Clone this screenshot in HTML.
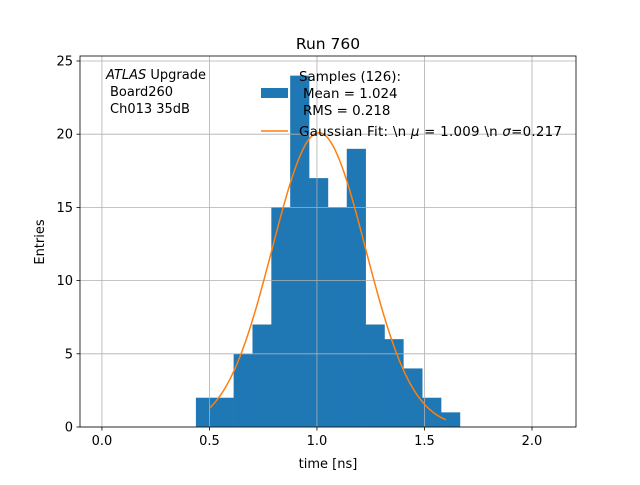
<!DOCTYPE html>
<html><head><meta charset="utf-8"><style>
body{margin:0;background:#fff}
svg text{font-family:"DejaVu Sans","Liberation Sans",sans-serif;fill:#000}
</style></head><body>
<svg id="c" width="640" height="480" xmlns="http://www.w3.org/2000/svg"></svg>
<script>
const binStart = 0.437;
const binWidth = 0.0877;
const counts = [2,2,5,7,15,24,17,15,19,7,6,4,2,1];
const fitMu = 1.009, fitSigma = 0.217, fitAmp = 20.1;
const fitRange = [0.5, 1.6];
const xTicks = [0.0,0.5,1.0,1.5,2.0];
const xTickLabels = ["0.0","0.5","1.0","1.5","2.0"];
const yTicks = [0,5,10,15,20,25];

const L=80,R=576,T=56,B=427;
const xMin=-0.102,xMax=2.2047,yMin=0,yMax=25.34;
const X=v=>L+(v-xMin)/(xMax-xMin)*(R-L);
const Y=v=>B-(v-yMin)/(yMax-yMin)*(B-T);
const svg=document.getElementById('c');
const NS='http://www.w3.org/2000/svg';
function mk(tag,attrs,parent){const e=document.createElementNS(NS,tag);for(const k in attrs)e.setAttribute(k,attrs[k]);(parent||svg).appendChild(e);return e;}

const bars=mk('g',{});


counts.forEach((c,i)=>{
  const x0=X(binStart+i*binWidth),x1=X(binStart+(i+1)*binWidth);
  const r=mk('rect',{x:x0,y:Y(c),width:x1-x0+0.3,height:Y(0)-Y(c),fill:'#1f77b4'},bars);
  
  
});
const grid=mk('g',{stroke:'#b0b0b0','stroke-width':0.8});


xTicks.forEach(t=>mk('line',{x1:X(t),x2:X(t),y1:T,y2:B},grid));
yTicks.forEach(t=>mk('line',{x1:L,x2:R,y1:Y(t),y2:Y(t)},grid));
let d='';
for(let i=0;i<=200;i++){const x=fitRange[0]+(fitRange[1]-fitRange[0])*i/200;const y=fitAmp*Math.exp(-0.5*((x-fitMu)/fitSigma)**2);d+=(i?'L':'M')+X(x).toFixed(2)+','+Y(y).toFixed(2);}
const fit=mk('path',{d:d,fill:'none',stroke:'#ff7f0e','stroke-width':1.5});


const fr=mk('rect',{x:L,y:T,width:R-L,height:B-T,fill:'none',stroke:'#000','stroke-width':0.8});


xTicks.forEach((t,i)=>{mk('line',{x1:X(t),x2:X(t),y1:B,y2:B+3.5,stroke:'#000','stroke-width':0.8});
  const tx=mk('text',{x:X(t),y:B+18,'text-anchor':'middle','font-size':13});tx.textContent=xTickLabels[i];
  });
yTicks.forEach(t=>{mk('line',{x1:L,x2:L-3.5,y1:Y(t),y2:Y(t),stroke:'#000','stroke-width':0.8});
  const tx=mk('text',{x:L-7,y:Y(t)+4.5,'text-anchor':'end','font-size':13});tx.textContent=t;
  });
</script>
<svg width="640" height="480" style="position:absolute;left:0;top:0">
<text x="328" y="49" text-anchor="middle" font-size="15.5">Run 760</text>
<text x="328" y="468" text-anchor="middle" font-size="13">time [ns]</text>
<text x="44" y="242" text-anchor="middle" font-size="13" transform="rotate(-90 44 242)">Entries</text>
<g font-size="13">
<text x="106" y="79"><tspan font-style="italic">ATLAS</tspan> Upgrade</text>
<text x="110" y="96">Board260</text>
<text x="110" y="113">Ch013 35dB</text>
</g>
<g>
<rect x="261" y="88" width="27" height="10" fill="#1f77b4"/>
<g font-size="13.4">
<text x="299" y="81">Samples (126):</text>
<text x="303" y="98">Mean = 1.024</text>
<text x="303" y="115">RMS = 0.218</text>
<text x="299" y="136" textLength="263" lengthAdjust="spacing">Gaussian Fit: \n <tspan font-style="italic">μ</tspan> = 1.009 \n <tspan font-style="italic">σ</tspan>=0.217</text>
</g>
<line x1="261" x2="288" y1="131" y2="131" stroke="#ff7f0e" stroke-width="1.5"/>
</g>
</svg>
</body></html>
